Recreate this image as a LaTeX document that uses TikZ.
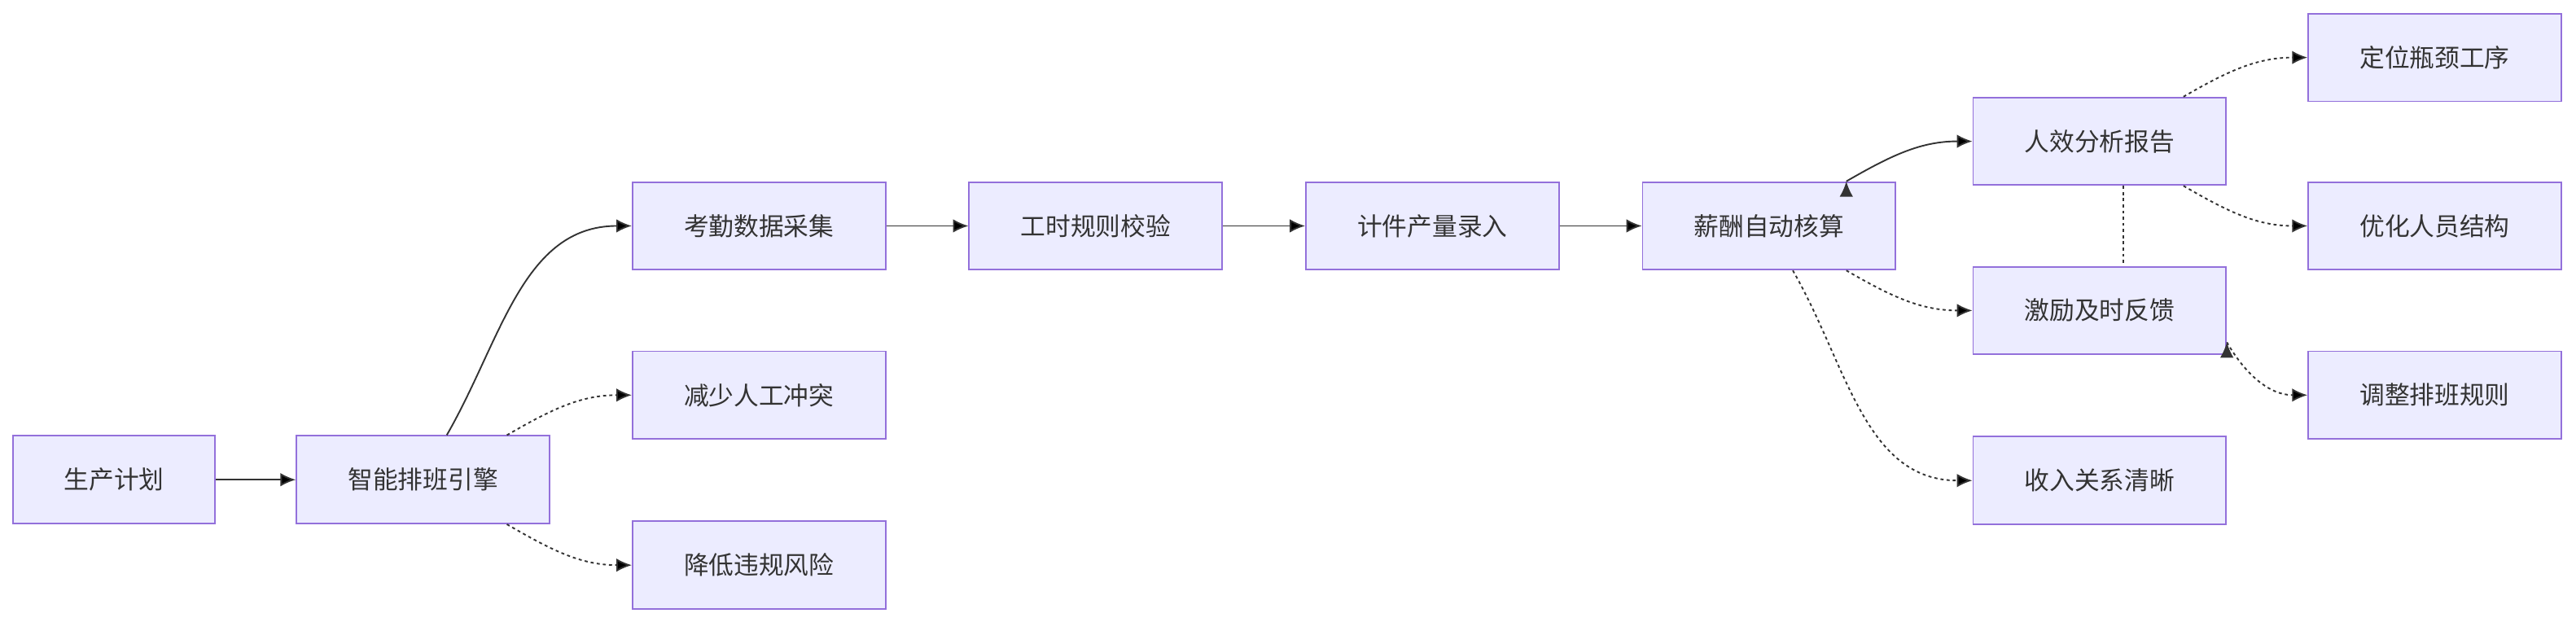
\documentclass[tikz,border=0pt]{standalone}
\usepackage{fontspec}
\setmainfont{Noto Sans CJK SC}
\usetikzlibrary{arrows.meta,positioning}
\definecolor{boxfill}{HTML}{ECECFF}
\definecolor{boxline}{HTML}{9370DB}
\definecolor{linkcol}{HTML}{333333}

\begin{document}
\begin{tikzpicture}[x=0.03cm,y=-0.03cm,% all boxes share one look
			every node/.style={
				align=center,
				font=\fontsize{13}{15}\selectfont,
				text=linkcol
			},
			stepbox/.style={rectangle,draw=boxline,fill=boxfill,line width=0.8pt,
				minimum width=4.62cm,minimum height=1.6cm},
			link/.style={draw=linkcol,line width=0.8pt,-{Latex[length=8pt,width=7pt]}},
			dotlink/.style={link,dash pattern=on 1.6pt off 1.6pt}
		]
		\useasboundingbox (0,0) rectangle (1568,378.6);
		% nodes
		\node[stepbox,minimum width=3.69cm](plan) at (69.5,292){生产计划};
		\node[stepbox](engine) at (257.5,292){智能排班引擎};
		\node[stepbox](attend) at (462,137.5){考勤数据采集};
		\node[stepbox](conflict) at (462,240.5){减少人工冲突};
		\node[stepbox](risk) at (462,344){降低违规风险};
		\node[stepbox](hours)[right=1.5cm of attend]{工时规则校验};
		\node[stepbox](piece)[right=1.5cm of hours]{计件产量录入};
		\node[stepbox](salary)[right=1.5cm of piece]{薪酬自动核算};
		\node[stepbox](report) at (1278,86){人效分析报告};
		\node[stepbox](reward) at (1278,189){激励及时反馈};
		\node[stepbox](income) at (1278,292.5){收入关系清晰};
		\node[stepbox](neck) at (1482,35){定位瓶颈工序};
		\node[stepbox](staff) at (1482,137.5){优化人员结构};
		\node[stepbox](rule) at (1482,240.5){调整排班规则};
		\path[link]
		(plan) edge (engine)
		(attend) edge (hours)
		(hours) edge (piece)
		(piece) edge (salary)
		(engine.62) edge[out=60,in=180] (attend.west)
		(salary.30) edge[out=30,in=180] (report.west)
		;
		\path[dotlink]
		(engine.-28) edge[out=-30,in=180] (risk.west)
		(engine.28) edge[out=30,in=180] (conflict.west)
		(salary.-30) edge[out=-30,in=180] (reward.west)
		(salary.-62) edge[out=-60,in=180] (income.west)
		(report.28) edge[out=30,in=180] (neck.west)
		(report.-28) edge[out=-30,in=180] (staff.west)
		(reward.-14) edge[out=-60,in=180] (rule.west)
		;
		% runs on behind the feedback box
		\draw[linkcol,line width=0.8pt,dash pattern=on 1.6pt off 1.6pt]
		(report.-62) -- (reward.62);
	\end{tikzpicture}
\end{document}
